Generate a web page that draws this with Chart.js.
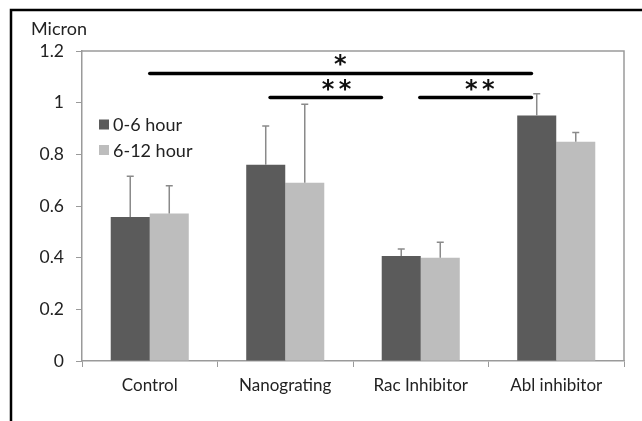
<!DOCTYPE html>
<html>
<head>
<meta charset="utf-8">
<script src="https://cdn.jsdelivr.net/npm/chart.js@4.4.0/dist/chart.umd.min.js"></script>
<style>
  html, body { margin: 0; padding: 0; background: #fff; }
  #wrap { width: 642px; height: 421px; position: relative; }
</style>
</head>
<body>
<div id="wrap"><canvas id="c" width="642" height="421"></canvas></div>
<script>
// data
const categories = ['Control', 'Nanograting', 'Rac Inhibitor', 'Abl inhibitor'];
const seriesNames = ['0-6 hour', '6-12 hour'];
const early = [0.557, 0.760, 0.406, 0.950];
const earlyErr = [0.158, 0.150, 0.028, 0.085];
const late = [0.571, 0.690, 0.400, 0.849];
const lateErr = [0.107, 0.304, 0.060, 0.036];
const yTicks = [0, 0.2, 0.4, 0.6, 0.8, 1, 1.2];

// significance bars: [from category, to category, y value, label, label category]
const sigBars = [
  [0.0, 2.817, 1.113, '*', 1.407],
  [0.888, 1.71, 1.02, '**', 1.378],
  [1.993, 2.817, 1.02, '**', 2.435]
];

const DARK = '#5b5b5b';
const LIGHT = '#bdbdbd';
const AXIS = '#9a9a9a';
const FONT = 'Lato, "Open Sans", sans-serif';

const extras = {
  id: 'extras',
  afterDatasetsDraw(chart) {
    const ctx = chart.ctx;
    const area = chart.chartArea;
    const x = chart.scales.x, y = chart.scales.y;
    ctx.save();

    // plot frame top/right
    ctx.strokeStyle = AXIS;
    ctx.lineWidth = 1.5;
    ctx.beginPath();
    ctx.moveTo(area.left, area.top);
    ctx.lineTo(area.right, area.top);
    ctx.lineTo(area.right, area.bottom);
    ctx.stroke();

    // error bars (upper only)
    const errs = [earlyErr, lateErr];
    chart.data.datasets.forEach((ds, di) => {
      const meta = chart.getDatasetMeta(di);
      meta.data.forEach((bar, i) => {
        const top = y.getPixelForValue(ds.data[i] + errs[di][i]);
        ctx.strokeStyle = '#8a8a8a';
        ctx.lineWidth = 1.5;
        ctx.beginPath();
        ctx.moveTo(bar.x, bar.y);
        ctx.lineTo(bar.x, top);
        ctx.moveTo(bar.x - 3.5, top);
        ctx.lineTo(bar.x + 3.5, top);
        ctx.stroke();
      });
    });

    // significance lines and stars
    const step = x.getPixelForValue(1) - x.getPixelForValue(0);
    const x0pix = x.getPixelForValue(0);
    sigBars.forEach(([a, b, v, label, lx]) => {
      const py = y.getPixelForValue(v);
      ctx.strokeStyle = '#000';
      ctx.lineWidth = 3.5;
      ctx.lineCap = 'round';
      ctx.beginPath();
      ctx.moveTo(x0pix + a * step, py);
      ctx.lineTo(x0pix + b * step, py);
      ctx.stroke();

      ctx.fillStyle = '#111';
      ctx.font = 'bold 24px "DejaVu Sans", sans-serif';
      ctx.textAlign = 'center';
      ctx.textBaseline = 'alphabetic';
      const cx = x0pix + lx * step;
      const n = label.length;
      for (let k = 0; k < n; k++) {
        const sx = cx + (k - (n - 1) / 2) * 17;
        ctx.fillText('*', sx, py - 1);
      }
    });

    // legend inside plot
    ctx.font = '18px ' + FONT;
    ctx.textAlign = 'left';
    ctx.textBaseline = 'middle';
    [DARK, LIGHT].forEach((col, i) => {
      const cy = 124.5 + i * 25.5;
      ctx.fillStyle = col;
      ctx.fillRect(99, cy - 5, 10, 10);
      ctx.fillStyle = '#222';
      ctx.fillText(seriesNames[i], 113, cy + 1);
    });

    // unit label
    ctx.font = '18px ' + FONT;
    ctx.fillStyle = '#222';
    ctx.fillText('Micron', 31, 29);

    // outer frame (top and left edges visible)
    ctx.strokeStyle = '#000';
    ctx.lineWidth = 2.5;
    ctx.lineCap = 'butt';
    ctx.beginPath();
    ctx.moveTo(11, 421);
    ctx.lineTo(11, 10);
    ctx.lineTo(642, 10);
    ctx.stroke();
    ctx.restore();
  }
};

new Chart(document.getElementById('c'), {
  type: 'bar',
  data: {
    labels: categories,
    datasets: [
      { label: seriesNames[0], data: early, backgroundColor: DARK },
      { label: seriesNames[1], data: late, backgroundColor: LIGHT }
    ]
  },
  options: {
    responsive: false,
    animation: false,
    devicePixelRatio: 1,
    layout: { padding: { left: 0, top: 51, right: 18, bottom: 0 } },
    datasets: { bar: { categoryPercentage: 0.576, barPercentage: 1.0 } },
    plugins: { legend: { display: false }, tooltip: { enabled: false } },
    scales: {
      x: {
        grid: { display: true, drawOnChartArea: false, drawTicks: true, tickLength: 6, color: AXIS, offset: true },
        border: { color: AXIS, width: 1.5 },
        ticks: { color: '#222', font: { family: FONT, size: 17 }, padding: 8 },
        afterFit(s) { s.height = 60; }
      },
      y: {
        min: 0, max: 1.2,
        afterBuildTicks(s) { s.ticks = yTicks.map(v => ({ value: v })); },
        grid: { display: true, drawOnChartArea: false, drawTicks: true, tickLength: 6, color: AXIS },
        border: { color: AXIS, width: 1.5 },
        ticks: { color: '#222', font: { family: FONT, size: 17.5 }, padding: 12,
                 callback: v => String(Math.round(v * 10) / 10) },
        afterFit(s) { s.width = 82; }
      }
    }
  },
  plugins: [extras]
});
</script>
</body>
</html>
